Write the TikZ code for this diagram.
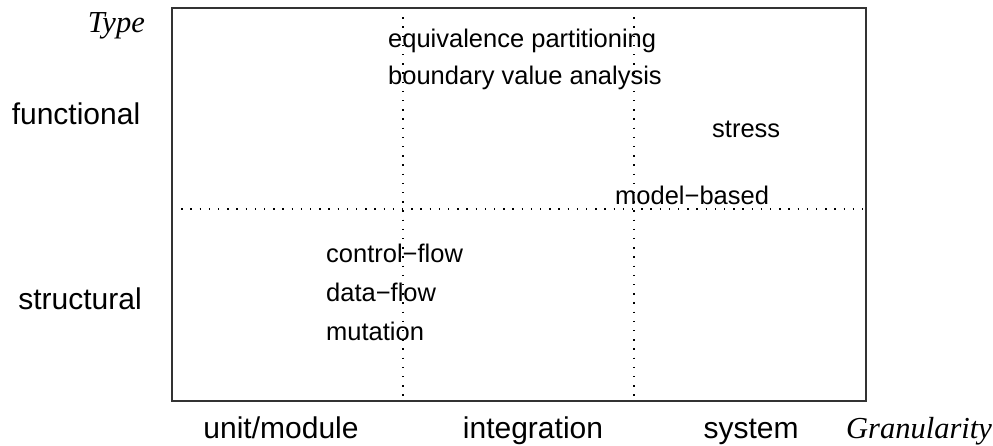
\documentclass[tikz,border=0pt]{standalone}
\usepackage{fontspec}
\setmainfont{Liberation Sans}
\newfontfamily\serifit{Liberation Serif}[ItalicFont={Liberation Serif Italic}]
\begin{document}
\begin{tikzpicture}[x=1pt,y=-1pt,
  frame/.style={draw=black!80,line width=1.4pt},
  dotline/.style={draw=black,line width=1.3pt,dash pattern=on 1.3pt off 7.9pt},
  inlab/.style={anchor=base west,inner sep=0pt,font=\fontsize{25.5}{25.5}\selectfont},
  axlab/.style={anchor=base,inner sep=0pt,font=\fontsize{30}{30}\selectfont},
  axtitle/.style={inner sep=0pt,font=\fontsize{30.5}{30.5}\selectfont\serifit\itshape}]
\useasboundingbox (0,0) rectangle (993,445);
% frame corners
\coordinate (tl) at (172,8);
\coordinate (br) at (866,401);
\coordinate (hL) at (172,209);
\coordinate (hR) at (866,209);
\coordinate (v1t) at (403,8);
\coordinate (v1b) at (403,401);
\coordinate (v2t) at (634,8);
\coordinate (v2b) at (634,401);
\draw[dotline] (hL) -- (hR);
\node[inlab,fill=white,inner xsep=1pt] (mb) at (614,204) {model−based};
\draw[dotline] (v1t) -- (v1b);
\draw[dotline] (v2t) -- (v2b);
\draw[frame] (tl) rectangle (br);
% inner labels
\node[inlab] (ep) at (388,47) {equivalence partitioning};
\node[inlab] (bva) at (388,84) {boundary value analysis};
\node[inlab] (st) at (712,137) {stress};
\node[inlab] (cf) at (326,262) {control−flow};
\node[inlab] (df) at (326,301) {data−flow};
\node[inlab] (mu) at (326,340) {mutation};
% axis labels
\node[axtitle,anchor=base east] (ty) at (145,32) {Type};
\node[axlab] (fu) at (76,124) {functional};
\node[axlab] (sr) at (80,309) {structural};
\node[axlab] (um) at (281,438) {unit/module};
\node[axlab] (in) at (533,438) {integration};
\node[axlab] (sy) at (751,438) {system};
\node[axtitle,anchor=base west] (gr) at (846,438) {Granularity};
\end{tikzpicture}
\end{document}
